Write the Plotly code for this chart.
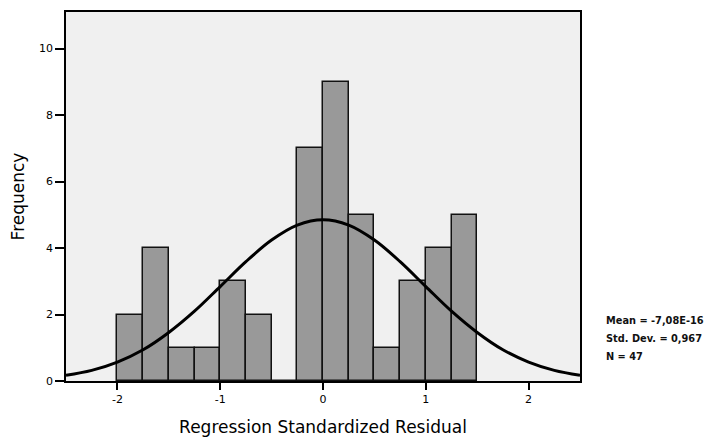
import plotly.graph_objects as go

# Histogram bins (left edges, width 0.25) and counts
bin_starts = [-2.0, -1.75, -1.5, -1.25, -1.0, -0.75, -0.5, -0.25, 0.0, 0.25, 0.5, 0.75, 1.0, 1.25]
counts = [2, 4, 1, 1, 3, 2, 0, 7, 9, 5, 1, 3, 4, 5]
bin_width = 0.25

# Normal curve
curve_x = [-2.5, -2.25, -2.0, -1.75, -1.5, -1.25, -1.0, -0.75, -0.5, -0.25, 0.0,
           0.25, 0.5, 0.75, 1.0, 1.25, 1.5, 1.75, 2.0, 2.25, 2.5]
curve_y = [0.17, 0.32, 0.57, 0.94, 1.46, 2.10, 2.84, 3.59, 4.24, 4.69, 4.85,
           4.69, 4.24, 3.59, 2.84, 2.10, 1.46, 0.94, 0.57, 0.32, 0.17]

x_ticks = [-2, -1, 0, 1, 2]
y_ticks = [0, 2, 4, 6, 8, 10]
stats_lines = ["Mean = -7,08E-16", "Std. Dev. = 0,967", "N = 47"]
stats_y = [0.164, 0.116, 0.067]

centers = [s + bin_width / 2 for s in bin_starts]

fig = go.Figure()
fig.add_trace(go.Bar(
    x=centers, y=counts, width=bin_width,
    marker=dict(color="#999999", line=dict(color="#111111", width=1.5)),
    showlegend=False, hoverinfo="skip",
))
fig.add_trace(go.Scatter(
    x=curve_x, y=curve_y, mode="lines",
    line=dict(color="#000000", width=3, shape="spline"),
    showlegend=False, hoverinfo="skip",
))

for line, yy in zip(stats_lines, stats_y):
    fig.add_annotation(
        xref="paper", yref="paper", x=1.047, y=yy, xanchor="left", yanchor="middle",
        text="<b>" + line + "</b>", showarrow=False, align="left",
        font=dict(family="DejaVu Sans, Liberation Sans, Arial", size=9.8, color="#111111"),
    )

# Body of the page has an 8px default margin, so the figure is sized to compensate
fig.update_layout(
    width=707, height=433,
    margin=dict(l=58, r=135, t=2, b=60),
    paper_bgcolor="#ffffff",
    plot_bgcolor="#f0f0f0",
    bargap=0,
    font=dict(family="DejaVu Sans, Liberation Sans, Arial, sans-serif", color="#000000"),
    xaxis=dict(
        range=[-2.5, 2.5], tickvals=x_ticks, ticktext=[str(v) for v in x_ticks],
        showgrid=False, zeroline=False,
        showline=True, linecolor="#000000", linewidth=1.5, mirror=True,
        ticks="outside", ticklen=7, tickwidth=1.5, tickcolor="#000000",
        tickfont=dict(size=11),
        title=dict(text="Regression Standardized Residual", font=dict(size=17), standoff=16),
    ),
    yaxis=dict(
        range=[0, 11.1], tickvals=y_ticks, ticktext=[str(v) for v in y_ticks],
        showgrid=False, zeroline=False,
        showline=True, linecolor="#000000", linewidth=1.5, mirror=True,
        ticks="outside", ticklen=9, tickwidth=1.5, tickcolor="#000000",
        tickfont=dict(size=11),
        title=dict(text="Frequency", font=dict(size=17), standoff=13),
    ),
)

fig.write_html("out.html")
